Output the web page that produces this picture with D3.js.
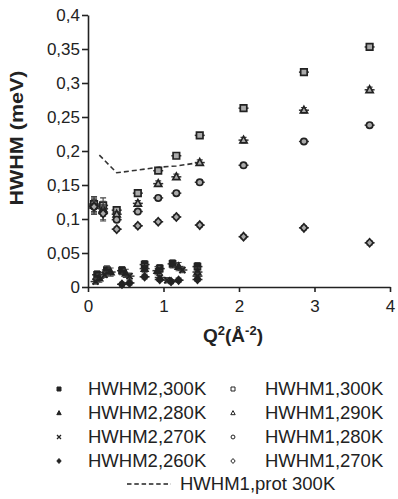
<!DOCTYPE html>
<html><head><meta charset="utf-8">
<script src="https://cdn.jsdelivr.net/npm/d3@7"></script>
<style>
body{margin:0;background:#fff;}
svg{display:block;font-family:Arial,"Liberation Sans",Helvetica,sans-serif;}
</style></head>
<body><svg id="c" width="398" height="499"></svg>
<script>
// ---- data ----
const xTicks = [0,1,2,3,4];
const yTicks = [0,0.05,0.1,0.15,0.2,0.25,0.3,0.35,0.4];
const qHWHM1 = [0.08,0.2,0.38,0.66,0.93,1.17,1.48,2.06,2.86,3.73];
const hwhm1_300 = [0.122,0.120,0.113,0.138,0.171,0.193,0.223,0.263,0.316,0.353];
const hwhm1_290 = [0.120,0.115,0.107,0.123,0.152,0.162,0.183,0.216,0.260,0.290];
const hwhm1_280 = [0.118,0.110,0.099,0.111,0.131,0.138,0.154,0.179,0.214,0.238];
const hwhm1_270 = [0.118,0.108,0.085,0.090,0.096,0.103,0.091,0.074,0.087,0.065];
const q2_300 = [0.12,0.25,0.45,0.75,0.95,1.12,1.45];
const hwhm2_300 = [0.018,0.025,0.024,0.033,0.027,0.034,0.030];
const q2_280 = [0.15,0.30,0.50,0.75,0.92,1.20,1.45];
const hwhm2_280 = [0.013,0.022,0.020,0.027,0.024,0.030,0.022];
const q2_270 = [0.10,0.22,0.55,0.95,1.05,1.25,1.45];
const hwhm2_270 = [0.008,0.018,0.016,0.014,0.010,0.025,0.016];
const q2_260 = [0.45,0.55,0.75,0.95,1.10,1.20,1.45];
const hwhm2_260 = [0.004,0.006,0.015,0.011,0.008,0.010,0.011];
const qProt = [0.15,0.38,0.66,0.93,1.17,1.48];
const hwhm1Prot = [0.194,0.168,0.172,0.176,0.178,0.183];

const series = [
  {name:"HWHM2,300K", q:q2_300, v:hwhm2_300, sym:"square", filled:true, err:0.006},
  {name:"HWHM2,280K", q:q2_280, v:hwhm2_280, sym:"triangle", filled:true, err:0.006},
  {name:"HWHM2,270K", q:q2_270, v:hwhm2_270, sym:"x", filled:true, err:0.004},
  {name:"HWHM2,260K", q:q2_260, v:hwhm2_260, sym:"diamond", filled:true, err:0.003},
  {name:"HWHM1,300K", q:qHWHM1, v:hwhm1_300, sym:"square", filled:false, err:0.004},
  {name:"HWHM1,290K", q:qHWHM1, v:hwhm1_290, sym:"triangle", filled:false, err:0.004},
  {name:"HWHM1,280K", q:qHWHM1, v:hwhm1_280, sym:"circle", filled:false, err:0.003},
  {name:"HWHM1,270K", q:qHWHM1, v:hwhm1_270, sym:"diamond", filled:false, err:0.003}
];

const svg = d3.select("#c");
const x = d3.scaleLinear().domain([0,4]).range([88,390]);
const y = d3.scaleLinear().domain([0,0.4]).range([287,15]);
const fmt = d => d===0 ? "0" : String(d).replace(".", ",");
const ink = "#222";

function symPath(sym, size){
  const s = size;
  if(sym==="square") return `M${-s/2},${-s/2}h${s}v${s}h${-s}Z`;
  if(sym==="triangle") return `M0,${-s*0.6}L${s*0.55},${s*0.42}L${-s*0.55},${s*0.42}Z`;
  if(sym==="diamond") return `M0,${-s*0.62}L${s*0.55},0L0,${s*0.62}L${-s*0.55},0Z`;
  if(sym==="circle") return d3.symbol(d3.symbolCircle, s*s*0.75)();
  if(sym==="x") return `M${-s/2},${-s/2}L${s/2},${s/2}M${s/2},${-s/2}L${-s/2},${s/2}`;
}

// axes
const gy = svg.append("g").attr("transform","translate(88,0)")
  .call(d3.axisLeft(y).tickValues(yTicks).tickFormat(fmt).tickSize(6).tickSizeOuter(0).tickPadding(2));
const gx = svg.append("g").attr("transform","translate(0,287)")
  .call(d3.axisBottom(x).tickValues(xTicks).tickFormat(d=>d).tickSize(5).tickSizeOuter(0).tickPadding(8));
[gy,gx].forEach(g=>{
  g.selectAll("path,line").attr("stroke",ink).attr("stroke-width",1.6);
  g.selectAll("text").attr("fill",ink).style("font-size","17px").style("font-family","Arial, 'Liberation Sans', sans-serif");
});

// axis titles
svg.append("text").attr("transform","translate(23,138) rotate(-90)")
  .attr("text-anchor","middle").attr("fill",ink)
  .style("font-size","19px").style("font-weight","bold")
  .attr("textLength",135).attr("lengthAdjust","spacingAndGlyphs")
  .text("HWHM (meV)");
const xt = svg.append("text").attr("x",203).attr("y",342).attr("fill",ink)
  .style("font-size","19px").style("font-weight","bold");
xt.append("tspan").text("Q");
xt.append("tspan").attr("dy",-7).style("font-size","13px").text("2");
xt.append("tspan").attr("dy",7).text("(Å");
xt.append("tspan").attr("dy",-7).style("font-size","13px").text("-2");
xt.append("tspan").attr("dy",7).text(")");

// dashed prot line
const protPts = qProt.map((q,i)=>[q,hwhm1Prot[i]]);
svg.append("path").datum(protPts)
  .attr("d", d3.line().x(d=>x(d[0])).y(d=>y(d[1])))
  .attr("fill","none").attr("stroke","#333").attr("stroke-width",1.6)
  .attr("stroke-dasharray","5,3");

// points
const plot = svg.append("g");
series.forEach(s=>{
  const pts = s.q.map((q,i)=>({q, v:s.v[i]}));
  const g = plot.append("g");
  const big = s.filled ? 6 : 6.5;
  pts.forEach(p=>{
    const px = x(p.q), py = y(p.v);
    const e = (p.q < 0.25 && !s.filled) ? 0.011 : s.err;
    g.append("path")
      .attr("d",`M${px},${y(p.v+e)}V${y(p.v-e)}M${px-3},${y(p.v+e)}h6M${px-3},${y(p.v-e)}h6`)
      .attr("stroke","#444").attr("stroke-width",1.1).attr("fill","none");
    g.append("path").attr("d",`M${px-5},${py}h10`).attr("stroke","#333").attr("stroke-width",1.5);
    g.append("path").attr("transform",`translate(${px},${py})`)
      .attr("d",symPath(s.sym,big))
      .attr("fill", s.filled ? ink : "#aaa")
      .attr("stroke", ink).attr("stroke-width", s.sym==="x"?2:1.7);
  });
});

// legend
const rowsY = [395,419,443,467];
const leg = svg.append("g");
series.forEach((s,i)=>{
  const col = i<4 ? 0 : 1;
  const row = i%4;
  const mx = col===0 ? 59 : 233;
  const tx = col===0 ? 88 : 265;
  const by = rowsY[row];
  leg.append("path").attr("transform",`translate(${mx},${by-6})`)
    .attr("d",symPath(s.sym, 4))
    .attr("fill", s.filled ? ink : "#fff")
    .attr("stroke", ink).attr("stroke-width", s.sym==="x"?1.3:1);
  leg.append("text").attr("x",tx).attr("y",by).attr("fill",ink)
    .style("font-size","18.5px").text(s.name);
});
leg.append("path").attr("d","M127,484H171").attr("stroke",ink).attr("stroke-width",1.3)
  .attr("stroke-dasharray","4.5,2.8");
leg.append("text").attr("x",180).attr("y",490).attr("fill",ink)
  .style("font-size","18.5px").text("HWHM1,prot 300K");
</script></body></html>
